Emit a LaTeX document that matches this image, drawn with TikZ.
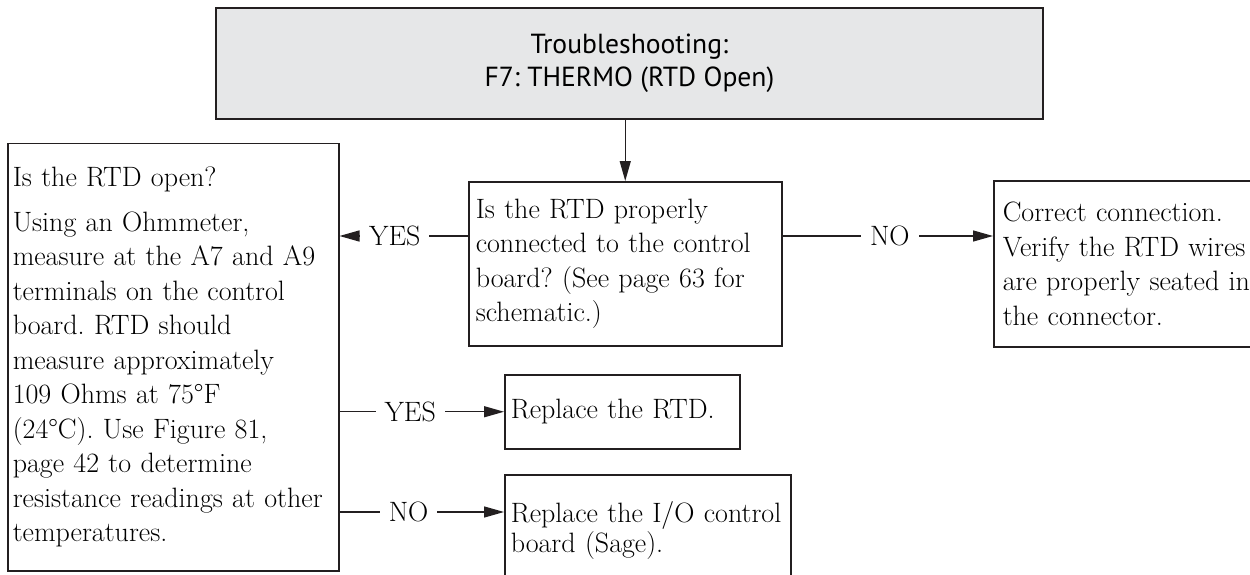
\documentclass[tikz,border=0pt]{standalone}
\usepackage{fontspec}
\newfontfamily\headfont{PT Sans}
\usetikzlibrary{arrows.meta,positioning,calc}
\definecolor{tsGray}{HTML}{E6E7E8}
\definecolor{tsInk}{HTML}{231F20}
\frenchspacing

\begin{document}
\begin{tikzpicture}[x=1pt,y=-1pt,>={Triangle[length=20pt,width=11pt]},
    box/.style={draw=tsInk,line width=1.5pt,rectangle,anchor=north west,inner ysep=0pt,
      align=left,font=\fontsize{28}{34.5}\selectfont},
    headbox/.style={box,fill=tsGray,line width=1.8pt,align=center,
      font=\headfont\fontsize{27.6}{33}\selectfont},
    link/.style={draw=tsInk,line width=1.4pt},
    tag/.style={fill=white,inner xsep=9pt,inner ysep=2pt,font=\fontsize{28}{30}\selectfont}]
  \useasboundingbox (0,0) rectangle (1250,575);
  \clip (0,0) rectangle (1250,575);
  % boxes
  \node[headbox,minimum width=827pt,minimum height=111pt] (head) at (215,7)
    {Troubleshooting:\\F7: THERMO (RTD Open)};
  \node[box,minimum width=313pt,minimum height=164pt,text width=299pt,inner xsep=7pt] (check) at (468,181)
    {Is the RTD properly\\connected to the control\\board? (See page 63 for\\schematic.)};
  \node[box,minimum width=331pt,minimum height=427pt,text width=321pt,inner xsep=5pt] (open) at (7,143)
    {Is the RTD open?\\[10pt]Using an Ohmmeter,\\measure at the A7 and A9\\terminals on the control\\board. RTD should\\measure approximately\\109 Ohms at 75°F\\(24°C). Use Figure 81,\\page 42 to determine\\resistance readings at other\\temperatures.};
  \node[box,minimum width=270pt,minimum height=166pt,text width=252pt,inner xsep=9pt] (fix) at (993,180)
    {Correct connection.\\Verify the RTD wires\\are properly seated in\\the connector.};
  \node[box,minimum width=235pt,minimum height=74pt,text width=223pt,inner xsep=6pt] (rtd) at (504,374)
    {Replace the RTD.};
  \node[box,text width=274pt,inner xsep=6pt,inner ysep=8pt,text height=40pt,text depth=80pt,
    font=\fontsize{28}{30}\selectfont] (board) at (504,474)
    {Replace the I/O control\\board (Sage).};
  % connectors
  \coordinate (row) at ($(check.north west)+(0,55)$);
  \coordinate (low) at ($(board.north west)+(0,38)$);
  \draw[link,->] (head.south -| check.north) -- (check.north);
  \draw[link,->] (row) -- node[tag,pos=0.57] {YES} (row -| open.east);
  \draw[link,->] (row -| check.east) -- node[tag,pos=0.51] {NO} (row -| fix.west);
  \draw[link,->] (rtd.west -| open.east) -- node[tag,pos=0.43] {YES} (rtd.west);
  \draw[link,->] (low -| open.east) -- node[tag,pos=0.42] {NO} (low);
\end{tikzpicture}
\end{document}
